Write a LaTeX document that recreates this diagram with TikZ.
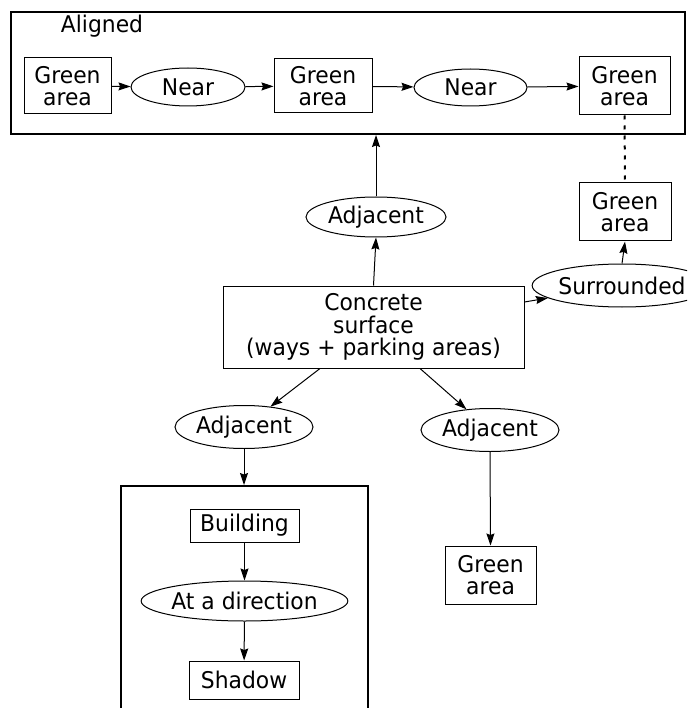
\documentclass[tikz,border=0pt]{standalone}
\usepackage{fontspec}
\setmainfont{DejaVu Sans}[FakeStretch=0.95]
\usetikzlibrary{arrows.meta,shapes.geometric}
\definecolor{ink}{HTML}{000000}
\tikzset{
  areabox/.style={rectangle,draw=ink,line width=1pt,align=center,inner sep=0pt},
  relation/.style={ellipse,draw=ink,line width=1pt,align=center,inner sep=0pt},
  frame/.style={rectangle,draw=ink,line width=2pt,inner sep=0pt},
  arrow/.style={-{Stealth[length=12pt,width=8pt,inset=1.5pt]},line width=1pt,ink},
  dotlink/.style={line width=2pt,ink,dash pattern=on 4pt off 6pt}
}

\begin{document}
\begin{tikzpicture}[x=1pt,y=-1pt,font=\fontsize{23}{22.5}\selectfont]
  \clip (0,0) rectangle (687,708);
  \node[frame,minimum width=674pt,minimum height=122pt] (aligned) at (348,73) {};
  \node (alignedlabel) at (102,26) {Aligned};
  \node[areabox,minimum width=87pt,minimum height=56pt] (area1) at (67.5,86) {Green\\area};
  \node[relation,minimum width=114pt,minimum height=38pt] (near1) at (188,87) {Near};
  \node[areabox,minimum width=98pt,minimum height=54pt] (area2) at (323,86) {Green\\area};
  \node[relation,minimum width=113pt,minimum height=37pt] (near2) at (470.5,87.5) {Near};
  \node[areabox,minimum width=91pt,minimum height=58pt] (area3) at (624.5,86) {Green\\area};
  \node[relation,minimum width=140pt,minimum height=40pt] (adj1) at (376,217) {Adjacent};
  \node[areabox,minimum width=92pt,minimum height=58pt] (area4) at (625,212) {Green\\area};
  \node[areabox,minimum width=301pt,minimum height=82pt] (concrete) at (373.5,327) {Concrete\\surface\\(ways + parking areas)};
  \node[relation,minimum width=136pt,minimum height=43pt] (surr) at (622,285.5) {Surrounded};
  \node[relation,minimum width=138pt,minimum height=43pt] (adj2) at (244,427) {Adjacent};
  \node[relation,minimum width=138pt,minimum height=43pt] (adj3) at (490,430) {Adjacent};
  \node[frame,minimum width=247pt,minimum height=244pt] (shade) at (244.5,608) {};
  \node[areabox,minimum width=109pt,minimum height=33pt] (building) at (244.5,525.5) {Building};
  \node[relation,minimum width=183pt,minimum height=40pt] (direction) at (244.5,601) {At a direction};
  \node[areabox,minimum width=110pt,minimum height=38pt] (shadow) at (244,680) {Shadow};
  \node[areabox,minimum width=91pt,minimum height=58pt] (area5) at (490.5,575) {Green\\area};

  \draw[arrow] (area1) -- (near1);
  \draw[arrow] (near1) -- (area2);
  \draw[arrow] (area2) -- (near2);
  \draw[arrow] (near2) -- (area3);
  \draw[dotlink] (area3.south) -- (area4.north);
  \draw[arrow] (adj1.north) -- (adj1.north |- aligned.south);
  \draw[arrow] (concrete.north) -- (adj1.south);
  \draw[arrow] ([yshift=25pt]concrete.east) -- (surr);
  \draw[arrow] (surr.north) -- (area4.south);
  \draw[arrow] ([xshift=-53.5pt]concrete.south) -- (adj2);
  \draw[arrow] ([xshift=46.5pt]concrete.south) -- (adj3);
  \draw[arrow] (adj2.south) -- (adj2.south |- shade.north);
  \draw[arrow] (building) -- (direction);
  \draw[arrow] (direction) -- (shadow);
  \draw[arrow] (adj3.south) -- (area5.north);
\end{tikzpicture}
\end{document}
